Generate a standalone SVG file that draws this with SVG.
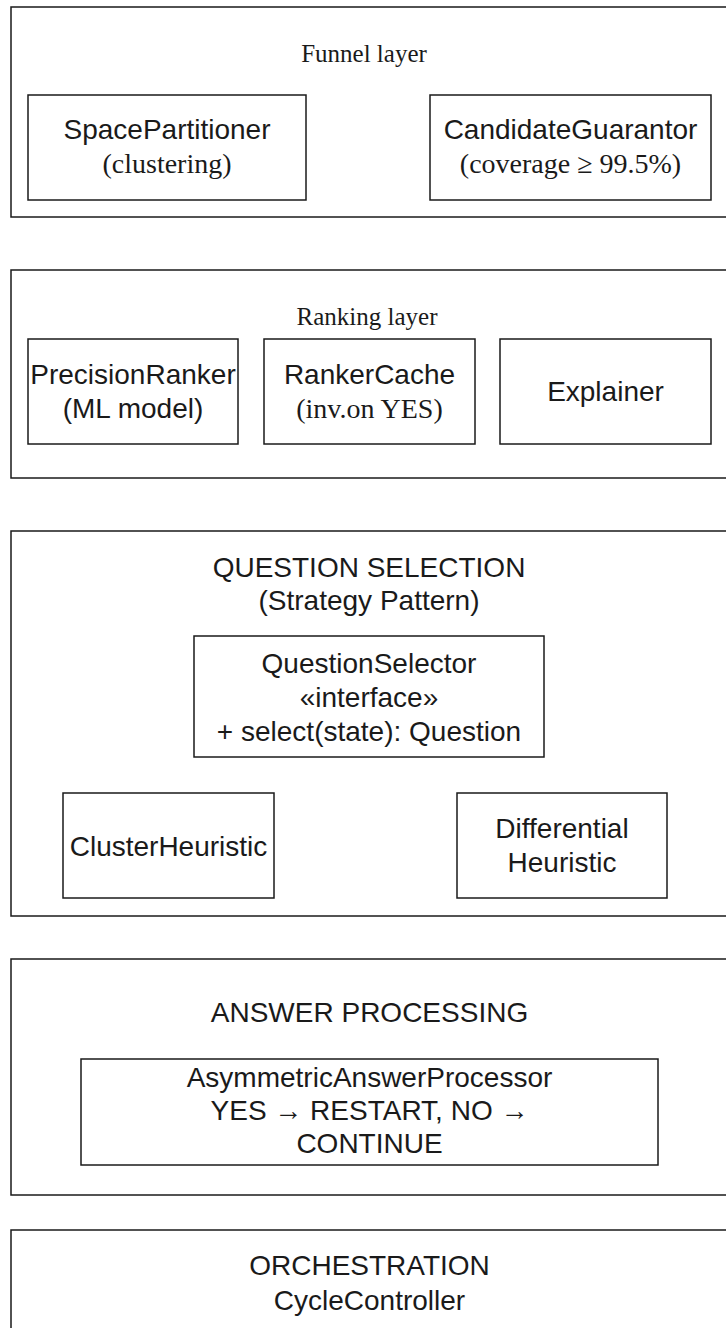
<svg xmlns="http://www.w3.org/2000/svg" width="726" height="1328" viewBox="0 0 726 1328">
  <style>
    .frame { fill: #ffffff; stroke: #1a1a1a; stroke-width: 1.5; }
    .box { fill: #ffffff; stroke: #1a1a1a; stroke-width: 1.5; }
    .sans { font-family: "Liberation Sans", Arial, sans-serif; font-size: 28px; fill: #1a1a1a; text-anchor: middle; }
    .serif { font-family: "Liberation Serif", "Times New Roman", serif; font-size: 28px; fill: #1a1a1a; text-anchor: middle; }
    .title { font-family: "Liberation Serif", "Times New Roman", serif; font-size: 25px; fill: #1a1a1a; text-anchor: middle; }
  </style>
  <rect width="726" height="1328" fill="#ffffff"/>

  <g id="funnel-layer">
    <rect class="frame" x="11" y="7" width="717" height="210"/>
    <text class="title" x="364" y="62">Funnel layer</text>
  </g>
  <g id="space-partitioner">
    <rect class="box" x="28" y="95" width="278" height="105"/>
    <text class="sans" x="167" y="139">SpacePartitioner</text>
    <text class="serif" x="167" y="173">(clustering)</text>
  </g>
  <g id="candidate-guarantor">
    <rect class="box" x="430" y="95" width="281" height="105"/>
    <text class="sans" x="570.5" y="139">CandidateGuarantor</text>
    <text class="serif" x="570.5" y="173">(coverage ≥ 99.5%)</text>
  </g>

  <g id="ranking-layer">
    <rect class="frame" x="11" y="270" width="717" height="208"/>
    <text class="title" x="367" y="325">Ranking layer</text>
  </g>
  <g id="precision-ranker">
    <rect class="box" x="28" y="339" width="210" height="105"/>
    <text class="sans" x="133" y="384">PrecisionRanker</text>
    <text class="sans" x="133" y="418">(ML model)</text>
  </g>
  <g id="ranker-cache">
    <rect class="box" x="264" y="339" width="211" height="105"/>
    <text class="sans" x="369.5" y="384">RankerCache</text>
    <text class="serif" x="369.5" y="418">(inv.on YES)</text>
  </g>
  <g id="explainer">
    <rect class="box" x="500" y="339" width="211" height="105"/>
    <text class="sans" x="605.5" y="401">Explainer</text>
  </g>

  <g id="question-selection">
    <rect class="frame" x="11" y="531" width="717" height="385"/>
    <text class="sans" x="369" y="577">QUESTION SELECTION</text>
    <text class="sans" x="369" y="610">(Strategy Pattern)</text>
  </g>
  <g id="question-selector">
    <rect class="box" x="194" y="636" width="350" height="121"/>
    <text class="sans" x="369" y="673">QuestionSelector</text>
    <text class="sans" x="369" y="707">«interface»</text>
    <text class="sans" x="369" y="741">+ select(state): Question</text>
  </g>
  <g id="cluster-heuristic">
    <rect class="box" x="63" y="793" width="211" height="105"/>
    <text class="sans" x="168.5" y="856">ClusterHeuristic</text>
  </g>
  <g id="differential-heuristic">
    <rect class="box" x="457" y="793" width="210" height="105"/>
    <text class="sans" x="562" y="838">Differential</text>
    <text class="sans" x="562" y="872">Heuristic</text>
  </g>

  <g id="answer-processing">
    <rect class="frame" x="11" y="959" width="717" height="236"/>
    <text class="sans" x="369.5" y="1022">ANSWER PROCESSING</text>
  </g>
  <g id="asymmetric-answer-processor">
    <rect class="box" x="81" y="1059" width="577" height="106"/>
    <text class="sans" x="369.5" y="1087">AsymmetricAnswerProcessor</text>
    <text class="sans" x="369.5" y="1120">YES → RESTART, NO →</text>
    <text class="sans" x="369.5" y="1153">CONTINUE</text>
  </g>

  <g id="orchestration">
    <rect class="frame" x="11" y="1230" width="717" height="120"/>
    <text class="sans" x="369.5" y="1275">ORCHESTRATION</text>
    <text class="sans" x="369.5" y="1310">CycleController</text>
  </g>

  <g id="connectors"></g>
</svg>
